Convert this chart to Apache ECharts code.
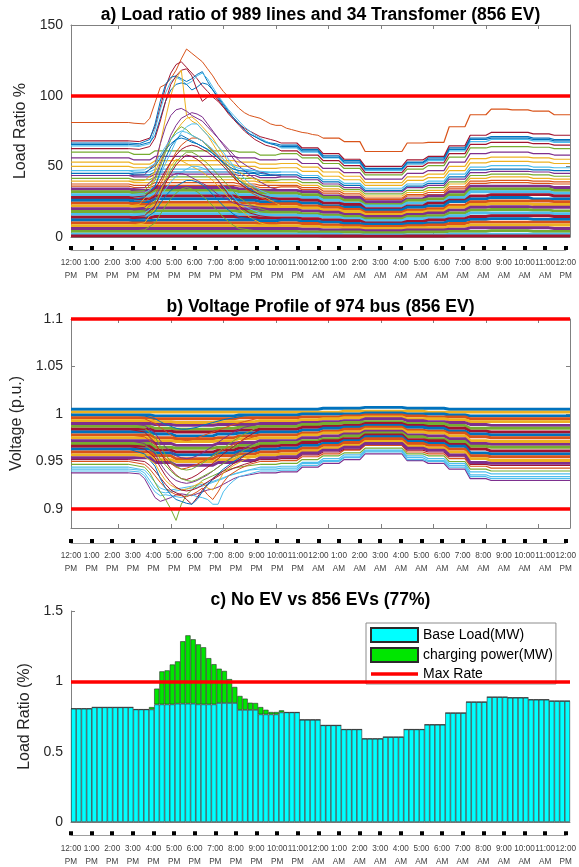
<!DOCTYPE html>
<html lang="en" style="height: 100%">
<head>
  <meta charset="utf-8">
</head>
<body style="height: 100%; margin: 0; background: #fff">
  <div id="container" style="width: 579px; height: 867px;"></div>

  <script type="text/javascript" src="https://fastly.jsdelivr.net/npm/echarts@6.0.0/dist/echarts.min.js"></script>

  <script type="text/javascript">
    // x axis: 96 samples of 15 min, 12:00 PM .. 11:45 AM
    var hourLabels = ['12:00\nPM', '1:00\nPM', '2:00\nPM', '3:00\nPM', '4:00\nPM', '5:00\nPM', '6:00\nPM', '7:00\nPM',
      '8:00\nPM', '9:00\nPM', '10:00\nPM', '11:00\nPM', '12:00\nAM', '1:00\nAM', '2:00\nAM', '3:00\nAM', '4:00\nAM',
      '5:00\nAM', '6:00\nAM', '7:00\nAM', '8:00\nAM', '9:00\nAM', '10:00\nAM', '11:00\nAM', '12:00\nPM'];
    var sampleTicks = [10, 20, 30, 40, 50, 60, 70, 80, 90];
    var panelTitles = ['a) Load ratio of 989 lines and 34 Transfomer (856 EV)',
      'b) Voltage Profile of 974 bus (856 EV)', 'c) No EV vs 856 EVs (77%)'];

    var loadLimit = 100;
    var voltLimits = [1.1, 0.9];
    var voltTicks = [0.9, 0.95, 1, 1.05, 1.1];
    var maxRate = 1;

    // a) hourly load ratio (%) of a selection of lines, 12 PM .. 11 AM; null = see loadPeaks
    var loadLines = [
      [66.5, 66.5, 66.5, null, null, null, null, null, null, null, 65, 62, 57.5, 54, 48.5, 48.5, 53, 56, 63, 70, 71, 71, 70, 69],
      [81, 81, 81, null, null, null, null, null, null, null, null, null, 70, 67.5, 60.5, 60.5, 66.5, 67, 78, 86.5, 90.5, 90, 89, 86.5],
      [53, 53, 53, 51.5, 54, 54, 54, 54, 53, 51.5, 52, 49.5, 46, 43, 38.5, 38.5, 42.5, 44.5, 50, 55.5, 56.5, 56.5, 56, 55],
      [56, 56, 56, 54.5, 57, 57, 57, 57, 56, 54.5, 55, 52, 48.5, 45.5, 41, 41, 45, 47, 53, 59, 60, 60, 59, 58],
      [60, 60, 60, 58.5, 61, 61, 61, 61, 60, 58, 59, 56, 52, 48.5, 44, 44, 48, 50.5, 56.5, 63, 64, 64, 63.5, 62.5],
      [64.5, 64.5, 64.5, null, null, null, null, null, null, null, 63, 60, 56, 52, 47, 47, 51.5, 54, 61, 67.5, 69, 69, 68, 67],
      [68, 68, 68, null, null, null, null, null, null, null, 66.5, 63, 59, 55, 50, 50, 54.5, 57, 64.5, 72, 74, 74, 73, 72],
      [65.5, 65.5, 65.5, null, null, null, null, null, null, null, 64, 61, 56.5, 53, 48, 48, 52.5, 55, 62, 69, 70, 70, 69, 68],
      [36, 36, 36, 35, 36.5, 36.5, 36.5, 36.5, 36, 35, 35.5, 33.5, 31, 29, 26.5, 26.5, 29, 30, 34, 38, 38.5, 38.5, 38, 37.5],
      [50, 50, 50, 49, 51, 51, 51, 51, 50, 48.5, 49, 46.5, 43, 40.5, 36.5, 36.5, 40, 42, 47, 52.5, 53.5, 53.5, 53, 52],
      [43.5, 43.5, 43.5, 42.5, 44.5, 44.5, 44.5, 44.5, 43.5, 42, 42.5, 40.5, 37.5, 35, 32, 32, 35, 36.5, 41, 45.5, 46.5, 46.5, 46, 45],
      [41.5, 41.5, 41.5, 40.5, 42.5, 42.5, 42.5, 42.5, 41.5, 40, 40.5, 38.5, 36, 33.5, 30.5, 30.5, 33, 35, 39, 43.5, 44.5, 44.5, 44, 43],
      [47, 47, 47, 46, 48, 48, 48, 48, 47, 45.5, 46, 43.5, 40.5, 38, 34.5, 34.5, 37.5, 39.5, 44.5, 49.5, 50.5, 50.5, 49.5, 49],
      [62.5, 62.5, 62.5, null, null, null, null, null, null, null, 61, 58, 54, 50.5, 45.5, 45.5, 50, 52.5, 59, 65.5, 67, 67, 66, 65],
      [45, 45, 45, 44, 46, 46, 46, 46, 45, 43.5, 44, 42, 39, 36.5, 33, 33, 36, 38, 42.5, 47.5, 48, 48, 47.5, 47],
      [37.5, 37.5, 37.5, 36.5, 38.5, 38.5, 38.5, 38.5, 37.5, 36.5, 36.5, 35, 32.5, 30.5, 27.5, 27.5, 30, 31.5, 35.5, 39.5, 40, 40, 39.5, 39],
      [39.5, 39.5, 39.5, 38.5, 40.5, 40.5, 40.5, 40.5, 39.5, 38.5, 38.5, 36.5, 34, 32, 29, 29, 31.5, 33, 37.5, 41.5, 42.5, 42.5, 41.5, 41],
      [34, 34, 34, 33, 35, 35, 35, 35, 34, 33, 33, 32, 29, 28, 25, 25, 27, 29, 32, 36, 36, 36, 36, 35],
      [32, 32, 32, 31, 33, 33, 33, 33, 32, 31, 31, 30, 28, 26, 23, 23, 26, 27, 30, 34, 34, 34, 34, 33],
      [30, 30, 30, 29, 31, 31, 31, 31, 30, 29, 29, 28, 26, 24, 22, 22, 24, 25, 28, 32, 32, 32, 32, 31],
      [28, 28, 28, 27, 29, 29, 29, 29, 28, 27, 27, 26, 24, 23, 20, 20, 22, 24, 26, 29, 30, 30, 30, 29],
      [26, 26, 26, 25, 27, 27, 27, 27, 26, 25, 25, 24, 22, 21, 19, 19, 21, 22, 25, 27, 28, 28, 27, 27],
      [24, 24, 24, 23, 24.5, 24.5, 24.5, 24.5, 24, 23, 23.5, 22, 21, 19.5, 17.5, 17.5, 19, 20, 22.5, 25, 25.5, 25.5, 25.5, 25],
      [22, 22, 22, 21.5, 22.5, 22.5, 22.5, 22.5, 22, 21.5, 21.5, 20.5, 19, 18, 16, 16, 17.5, 18.5, 21, 23, 23.5, 23.5, 23, 23],
      [20, 20, 20, 19.5, 20.5, 20.5, 20.5, 20.5, 20, 19.5, 19.5, 18.5, 17.5, 16, 14.5, 14.5, 16, 17, 19, 21, 21.5, 21.5, 21, 21],
      [18, 18, 18, 17.5, 18.5, 18.5, 18.5, 18.5, 18, 17.5, 17.5, 16.5, 15.5, 14.5, 13, 13, 14.5, 15, 17, 19, 19.5, 19.5, 19, 18.5],
      [16, 16, 16, 15.5, 16.5, 16.5, 16.5, 16.5, 16, 15.5, 15.5, 15, 14, 13, 11.5, 11.5, 13, 13.5, 15, 17, 17, 17, 17, 16.5],
      [14, 14, 14, 13.5, 14.5, 14.5, 14.5, 14.5, 14, 13.5, 13.5, 13, 12, 11.5, 10, 10, 11, 12, 13, 14.5, 15, 15, 15, 14.5],
      [12, 12, 12, 11.5, 12, 12, 12, 12, 12, 11.5, 12, 11, 10.5, 9.5, 9, 9, 9.5, 10, 11.5, 12.5, 13, 13, 12.5, 12.5],
      [10, 10, 10, 10, 10, 10, 10, 10, 10, 9.5, 10, 9.5, 8.5, 8, 7.5, 7.5, 8, 8.5, 9.5, 10.5, 10.5, 10.5, 10.5, 10.5],
      [8, 8, 8, 8, 8, 8, 8, 8, 8, 8, 8, 7.5, 7, 6.5, 6, 6, 6.5, 6.5, 7.5, 8.5, 8.5, 8.5, 8.5, 8.5],
      [6, 6, 6, 6, 6, 6, 6, 6, 6, 6, 6, 5.5, 5, 5, 4.5, 4.5, 5, 5, 5.5, 6.5, 6.5, 6.5, 6.5, 6],
      [4, 4, 4, 4, 4, 4, 4, 4, 4, 4, 4, 3.5, 3.5, 3.5, 3, 3, 3.5, 3.5, 4, 4, 4.5, 4.5, 4, 4],
      [2, 2, 2, 2, 2, 2, 2, 2, 2, 2, 2, 2, 2, 1.5, 1.5, 1.5, 1.5, 1.5, 2, 2, 2, 2, 2, 2],
      [0.8, 0.8, 0.8, 0.8, 0.8, 0.8, 0.8, 0.8, 0.8, 0.8, 0.8, 0.8, 0.7, 0.7, 0.6, 0.6, 0.7, 0.7, 0.8, 0.8, 0.8, 0.8, 0.8, 0.8]
    ];

    // a) EV charging peaks: [line index, [[sample, %], ...]]
    var loadPeaks = [
      [1, [[12, 81], [13, 80.5], [15, 80], [16, 84], [17, 95], [18, 106], [19, 108], [20, 112], [21, 118], [22, 126], [23, 133], [24, 130], [25, 127], [26, 124], [27, 119], [28, 114], [29, 108], [30, 103], [31, 99], [32, 95], [33, 91], [34, 88], [35, 86], [36, 85], [37, 84], [38, 82], [39, 80], [40, 79], [41, 79], [42, 77], [43, 76], [44, 75], [45, 74], [46, 73.5], [47, 72.5], [48, 72], [49, 70]]],
      [6, [[12, 68], [14, 67.5], [16, 70], [17, 78], [18, 92], [19, 106], [20, 116], [21, 122], [22, 124], [23, 120], [24, 116], [25, 112], [26, 107], [27, 103], [28, 99], [29, 96], [30, 92], [31, 88], [32, 84], [33, 80], [34, 77], [35, 75], [36, 73], [37, 71], [38, 70], [39, 69], [40, 68], [41, 66.5]]],
      [0, [[12, 66.5], [14, 66], [16, 69], [17, 80], [18, 96], [19, 108], [20, 113], [21, 114], [22, 112], [23, 110], [24, 112], [25, 115], [26, 117], [27, 110], [28, 104], [29, 98], [30, 93], [31, 88], [32, 84], [33, 80], [34, 76], [35, 73], [36, 71], [37, 69], [38, 67.5], [39, 66.5], [40, 66], [41, 65]]],
      [5, [[12, 64.5], [14, 64], [16, 66], [17, 76], [18, 90], [19, 102], [20, 110], [21, 113], [22, 111], [23, 108], [24, 110], [25, 114], [26, 116], [27, 112], [28, 106], [29, 100], [30, 95], [31, 90], [32, 86], [33, 82], [34, 78], [35, 75], [36, 72], [37, 70], [38, 68], [39, 66], [40, 65], [41, 63]]],
      [7, [[12, 65.5], [14, 65], [16, 67], [17, 72], [18, 84], [19, 96], [20, 104], [21, 108], [22, 109], [23, 108], [24, 104], [25, 106], [26, 109], [27, 108], [28, 104], [29, 99], [30, 94], [31, 89], [32, 84], [33, 80], [34, 76], [35, 73], [36, 71], [37, 69], [38, 67], [39, 66], [40, 65], [41, 64]]],
      [13, [[12, 62.5], [14, 62], [16, 64], [17, 70], [18, 82], [19, 96], [20, 108], [21, 114], [22, 118], [23, 119], [24, 114], [25, 104], [26, 96], [27, 99], [28, 101], [29, 97], [30, 92], [31, 87], [32, 83], [33, 79], [34, 75], [35, 72], [36, 69], [37, 67], [38, 65], [39, 64], [40, 63], [41, 61]]],
      [23, [[12, 22], [14, 23], [16, 32], [17, 48], [18, 66], [19, 84], [20, 100], [21, 112], [22, 118], [23, 86], [24, 82], [25, 80], [26, 76], [27, 72], [28, 66], [29, 60], [30, 55], [31, 50], [32, 46], [33, 42], [35, 36], [37, 30], [39, 26], [41, 22]]],
      [10, [[12, 43.5], [15, 44], [17, 52], [18, 66], [19, 78], [20, 86], [21, 90], [22, 91], [23, 89], [24, 86], [25, 84], [26, 82], [27, 78], [28, 74], [29, 70], [30, 66], [31, 62], [32, 58], [33, 54], [35, 49], [37, 46], [39, 44], [41, 43]]],
      [17, [[12, 34], [15, 35], [17, 42], [18, 52], [19, 62], [20, 72], [21, 79], [22, 84], [23, 86], [24, 88], [25, 87], [26, 85], [27, 80], [28, 75], [29, 70], [30, 65], [31, 60], [32, 55], [33, 50], [35, 44], [37, 39], [39, 35], [41, 33]]],
      [16, [[12, 39.5], [15, 40], [17, 46], [18, 54], [19, 62], [20, 69], [21, 75], [22, 80], [23, 84], [24, 85], [25, 82], [26, 78], [27, 74], [28, 70], [29, 64], [30, 58], [31, 53], [32, 49], [33, 46], [35, 42], [37, 40], [39, 39], [41, 38.5]]],
      [18, [[12, 32], [15, 33], [17, 40], [18, 50], [19, 60], [20, 69], [21, 75], [22, 78], [23, 76], [24, 72], [25, 70], [26, 68], [27, 64], [28, 60], [29, 56], [30, 52], [31, 48], [32, 44], [33, 40], [35, 36], [37, 33], [39, 32], [41, 31]]],
      [19, [[12, 30], [15, 31], [17, 36], [18, 44], [19, 52], [20, 60], [21, 68], [22, 74], [23, 78], [24, 80], [25, 80], [26, 76], [27, 72], [28, 68], [29, 64], [30, 60], [31, 55], [32, 50], [33, 45], [35, 38], [37, 33], [39, 30], [41, 29]]],
      [21, [[12, 26], [15, 28], [17, 36], [18, 46], [19, 56], [20, 64], [21, 69], [22, 72], [23, 70], [24, 68], [25, 66], [26, 64], [27, 62], [28, 59], [29, 56], [30, 52], [31, 48], [32, 44], [33, 40], [35, 34], [37, 30], [39, 27], [41, 25.5]]],
      [22, [[12, 24], [15, 25], [17, 30], [18, 37], [19, 45], [20, 53], [21, 60], [22, 65], [23, 68], [24, 70], [25, 70], [26, 68], [27, 65], [28, 61], [29, 57], [30, 53], [31, 48], [32, 43], [33, 38], [35, 32], [37, 28], [39, 25], [41, 23.5]]],
      [20, [[12, 28], [15, 29], [17, 34], [18, 40], [19, 47], [20, 53], [21, 58], [22, 62], [23, 64], [24, 65], [25, 64], [26, 62], [27, 60], [28, 57], [29, 54], [30, 50], [31, 46], [32, 42], [33, 38], [35, 33], [37, 30], [39, 28], [41, 27]]],
      [25, [[12, 18], [15, 19], [17, 25], [18, 32], [19, 40], [20, 47], [21, 53], [22, 57], [23, 60], [24, 60], [25, 58], [26, 55], [27, 52], [28, 48], [29, 44], [30, 40], [31, 36], [32, 32], [33, 28], [35, 23], [37, 20], [39, 18], [41, 17.5]]],
      [30, [[12, 8], [15, 10], [17, 20], [18, 32], [19, 42], [20, 50], [21, 55], [22, 54], [23, 52], [24, 50], [25, 48], [26, 46], [27, 43], [28, 40], [29, 36], [30, 32], [31, 28], [32, 24], [33, 20], [35, 14], [37, 10], [39, 8], [41, 8]]],
      [26, [[12, 16], [15, 17], [17, 22], [18, 28], [19, 34], [20, 39], [21, 43], [22, 46], [23, 48], [24, 50], [25, 50], [26, 49], [27, 47], [28, 44], [29, 40], [30, 36], [31, 32], [32, 28], [33, 24], [35, 20], [37, 17], [39, 16], [41, 15.5]]],
      [24, [[12, 20], [15, 21], [17, 28], [18, 35], [19, 40], [20, 43], [21, 45], [22, 45], [23, 44], [24, 42], [25, 40], [26, 38], [27, 36], [28, 33], [29, 30], [30, 28], [31, 26], [32, 24], [33, 23], [35, 22], [37, 21], [39, 20], [41, 19.5]]],
      [28, [[12, 12], [15, 13], [17, 18], [18, 24], [19, 29], [20, 33], [21, 36], [22, 38], [23, 40], [24, 40], [25, 39], [26, 37], [27, 34], [28, 30], [29, 26], [30, 22], [31, 19], [32, 16], [33, 14], [35, 13], [37, 12], [39, 12], [41, 12]]],
      [27, [[12, 14], [15, 15], [17, 22], [18, 30], [19, 38], [20, 45], [21, 51], [22, 55], [23, 58], [24, 57], [25, 55], [26, 52], [27, 48], [28, 44], [29, 40], [30, 35], [31, 30], [32, 26], [33, 22], [35, 17], [37, 15], [39, 14], [41, 13.5]]],
      [32, [[12, 4], [15, 5], [17, 10], [18, 16], [19, 22], [20, 27], [21, 31], [22, 34], [23, 35], [24, 34], [25, 32], [26, 29], [27, 26], [28, 22], [29, 18], [30, 14], [31, 11], [32, 8], [33, 6], [35, 5], [37, 4], [39, 4], [41, 4]]],
      [12, [[12, 47], [15, 47.5], [17, 52], [18, 58], [19, 64], [20, 69], [21, 73], [22, 75], [23, 74], [24, 72], [25, 70], [26, 68], [27, 65], [28, 62], [29, 58], [30, 55], [31, 52], [32, 50], [33, 48.5], [35, 47.5], [37, 46.5], [39, 46], [41, 46]]],
      [14, [[12, 45], [15, 45.5], [17, 50], [18, 56], [19, 62], [20, 66], [21, 69], [22, 70], [23, 69], [24, 67], [25, 66], [26, 64], [27, 62], [28, 59], [29, 56], [30, 53], [31, 50], [32, 48], [33, 47], [35, 46], [37, 45], [39, 44], [41, 44]]]
    ];

    // b) hourly bus voltage (p.u.), 12 PM .. 11 AM; null = see voltDips
    var voltLines = [
      [1.005, 1.005, 1.005, 1.005, 1.005, 1.005, 1.005, 1.005, 1.005, 1.005, 1.005, 1.005, 1.006, 1.006, 1.007, 1.007, 1.006, 1.006, 1.005, 1.005, 1.005, 1.005, 1.005, 1.005],
      [0.950, 0.950, 0.950, null, null, null, null, null, null, 0.950, 0.951, 0.955, 0.958, 0.962, 0.967, 0.967, 0.960, 0.958, 0.953, 0.945, 0.943, 0.943, 0.943, 0.943],
      [1.002, 1.002, 1.002, 1.002, 1.002, 1.002, 1.002, 1.002, 1.002, 1.002, 1.002, 1.002, 1.002, 1.003, 1.003, 1.003, 1.003, 1.002, 1.002, 1.002, 1.002, 1.002, 1.002, 1.002],
      [0.938, 0.938, 0.938, null, null, null, null, null, null, 0.938, 0.939, 0.944, 0.948, 0.952, 0.958, 0.958, 0.951, 0.948, 0.942, 0.932, 0.930, 0.930, 0.930, 0.930],
      [0.947, 0.947, 0.947, null, null, null, null, null, null, 0.947, 0.948, 0.952, 0.956, 0.959, 0.964, 0.964, 0.958, 0.956, 0.950, 0.942, 0.940, 0.940, 0.940, 0.940],
      [0.944, 0.944, 0.944, null, null, null, null, null, null, 0.944, 0.945, 0.949, 0.953, 0.957, 0.962, 0.962, 0.956, 0.953, 0.948, 0.939, 0.937, 0.937, 0.937, 0.937],
      [0.952, 0.952, 0.952, null, null, null, null, null, null, 0.952, 0.953, 0.957, 0.960, 0.963, 0.968, 0.968, 0.962, 0.960, 0.955, 0.947, 0.946, 0.946, 0.946, 0.946],
      [0.999, 0.999, 0.999, 0.999, 0.998, 0.998, 0.998, 0.998, 0.999, 0.999, 0.999, 1.000, 1.000, 1.000, 1.001, 1.001, 1.000, 1.000, 0.999, 0.998, 0.998, 0.998, 0.998, 0.998],
      [0.996, 0.996, 0.996, 0.996, 0.995, 0.995, 0.995, 0.995, 0.996, 0.996, 0.996, 0.997, 0.997, 0.998, 0.999, 0.999, 0.998, 0.997, 0.997, 0.995, 0.995, 0.995, 0.995, 0.995],
      [0.993, 0.993, 0.993, 0.993, 0.992, 0.991, 0.991, 0.992, 0.992, 0.993, 0.993, 0.994, 0.995, 0.996, 0.997, 0.997, 0.995, 0.995, 0.994, 0.992, 0.992, 0.992, 0.992, 0.992],
      [0.990, 0.990, 0.990, 0.990, 0.989, 0.988, 0.988, 0.989, 0.989, 0.990, 0.990, 0.991, 0.992, 0.993, 0.995, 0.995, 0.993, 0.992, 0.991, 0.989, 0.988, 0.988, 0.988, 0.988],
      [0.987, 0.987, 0.987, 0.987, 0.985, 0.984, 0.984, 0.985, 0.986, 0.987, 0.987, 0.989, 0.990, 0.991, 0.992, 0.992, 0.990, 0.990, 0.988, 0.985, 0.985, 0.985, 0.985, 0.985],
      [0.940, 0.940, 0.940, null, null, null, null, null, null, 0.940, 0.941, 0.946, 0.950, 0.954, 0.960, 0.960, 0.952, 0.950, 0.944, 0.934, 0.932, 0.932, 0.932, 0.932],
      [0.984, 0.984, 0.984, 0.984, 0.982, 0.981, 0.981, 0.982, 0.983, 0.984, 0.984, 0.986, 0.987, 0.988, 0.990, 0.990, 0.988, 0.987, 0.985, 0.982, 0.981, 0.981, 0.981, 0.981],
      [0.981, 0.981, 0.981, 0.981, 0.979, 0.977, 0.977, 0.979, 0.980, 0.981, 0.981, 0.983, 0.985, 0.986, 0.988, 0.988, 0.986, 0.985, 0.982, 0.979, 0.978, 0.978, 0.978, 0.978],
      [0.978, 0.978, 0.978, 0.978, 0.975, 0.974, 0.974, 0.975, 0.977, 0.978, 0.978, 0.980, 0.982, 0.984, 0.986, 0.986, 0.983, 0.982, 0.980, 0.976, 0.975, 0.975, 0.975, 0.975],
      [0.975, 0.975, 0.975, 0.975, 0.972, 0.971, 0.971, 0.972, 0.974, 0.975, 0.975, 0.978, 0.980, 0.981, 0.984, 0.984, 0.981, 0.980, 0.977, 0.972, 0.971, 0.971, 0.971, 0.971],
      [0.972, 0.972, 0.972, 0.972, 0.969, 0.967, 0.967, 0.969, 0.970, 0.972, 0.972, 0.975, 0.977, 0.979, 0.982, 0.982, 0.978, 0.977, 0.974, 0.969, 0.968, 0.968, 0.968, 0.968],
      [0.969, 0.969, 0.969, 0.969, 0.965, 0.964, 0.964, 0.965, 0.967, 0.969, 0.970, 0.972, 0.974, 0.977, 0.980, 0.980, 0.976, 0.974, 0.971, 0.966, 0.965, 0.965, 0.965, 0.965],
      [0.942, 0.942, 0.942, null, null, null, null, null, null, 0.942, 0.943, 0.948, 0.951, 0.955, 0.961, 0.961, 0.954, 0.951, 0.946, 0.936, 0.934, 0.934, 0.934, 0.934],
      [0.966, 0.966, 0.966, 0.966, 0.962, 0.960, 0.960, 0.962, 0.964, 0.966, 0.967, 0.970, 0.972, 0.974, 0.978, 0.978, 0.973, 0.972, 0.968, 0.963, 0.961, 0.961, 0.961, 0.961],
      [0.963, 0.963, 0.963, 0.963, 0.959, 0.957, 0.957, 0.959, 0.961, 0.963, 0.964, 0.967, 0.969, 0.972, 0.976, 0.976, 0.971, 0.969, 0.966, 0.959, 0.958, 0.958, 0.958, 0.958],
      [0.960, 0.960, 0.960, 0.960, 0.956, 0.953, 0.953, 0.956, 0.958, 0.960, 0.961, 0.964, 0.967, 0.970, 0.974, 0.974, 0.969, 0.967, 0.963, 0.956, 0.955, 0.955, 0.955, 0.955],
      [0.957, 0.957, 0.957, 0.957, 0.952, 0.950, 0.950, 0.952, 0.955, 0.957, 0.958, 0.961, 0.964, 0.967, 0.971, 0.971, 0.966, 0.964, 0.960, 0.953, 0.951, 0.951, 0.951, 0.951],
      [0.954, 0.954, 0.954, 0.954, 0.949, 0.946, 0.946, 0.949, 0.951, 0.954, 0.955, 0.959, 0.962, 0.965, 0.969, 0.969, 0.964, 0.962, 0.957, 0.949, 0.948, 0.948, 0.948, 0.948]
    ];

    // b) EV charging voltage dips: [line index, [[sample, p.u.], ...]]
    var voltDips = [
      [3, [[12, 0.938], [14, 0.937], [15, 0.932], [16, 0.922], [17, 0.912], [18, 0.908], [19, 0.910], [20, 0.912], [21, 0.915], [22, 0.916], [23, 0.915], [24, 0.914], [25, 0.916], [26, 0.918], [27, 0.920], [28, 0.921], [29, 0.923], [30, 0.926], [31, 0.929], [32, 0.932], [33, 0.934], [35, 0.936], [37, 0.938]]],
      [12, [[12, 0.940], [14, 0.939], [15, 0.935], [16, 0.926], [17, 0.918], [18, 0.914], [19, 0.915], [20, 0.914], [21, 0.913], [22, 0.912], [23, 0.914], [24, 0.915], [25, 0.913], [26, 0.912], [27, 0.910], [28, 0.905], [29, 0.905], [30, 0.918], [31, 0.925], [32, 0.930], [33, 0.934], [35, 0.937], [37, 0.940]]],
      [19, [[12, 0.942], [14, 0.941], [15, 0.938], [16, 0.930], [17, 0.922], [18, 0.918], [19, 0.917], [20, 0.918], [21, 0.919], [22, 0.920], [23, 0.921], [24, 0.922], [25, 0.923], [26, 0.924], [27, 0.926], [28, 0.928], [29, 0.930], [30, 0.932], [31, 0.935], [33, 0.938], [35, 0.941], [37, 0.942]]],
      [5, [[12, 0.944], [15, 0.941], [16, 0.935], [17, 0.928], [18, 0.922], [19, 0.920], [20, 0.920], [21, 0.921], [22, 0.922], [24, 0.924], [26, 0.926], [28, 0.929], [30, 0.933], [32, 0.937], [34, 0.940], [37, 0.944]]],
      [4, [[12, 0.947], [15, 0.944], [16, 0.938], [17, 0.928], [18, 0.918], [19, 0.910], [20, 0.900], [21, 0.888], [22, 0.905], [23, 0.915], [24, 0.920], [25, 0.925], [26, 0.930], [28, 0.935], [30, 0.940], [32, 0.943], [34, 0.945], [37, 0.947]]],
      [1, [[12, 0.950], [15, 0.947], [16, 0.942], [17, 0.935], [18, 0.928], [19, 0.922], [20, 0.918], [21, 0.915], [22, 0.914], [23, 0.913], [24, 0.915], [25, 0.918], [26, 0.922], [27, 0.915], [28, 0.910], [29, 0.918], [30, 0.928], [31, 0.935], [33, 0.942], [35, 0.947], [37, 0.950]]],
      [6, [[12, 0.952], [15, 0.950], [16, 0.946], [17, 0.940], [18, 0.933], [19, 0.926], [20, 0.920], [21, 0.917], [22, 0.915], [23, 0.910], [24, 0.905], [25, 0.912], [26, 0.920], [27, 0.926], [28, 0.931], [30, 0.938], [32, 0.943], [34, 0.947], [37, 0.952]]],
      [21, [[12, 0.963], [15, 0.958], [17, 0.945], [18, 0.932], [19, 0.922], [20, 0.915], [21, 0.910], [22, 0.908], [23, 0.906], [24, 0.905], [25, 0.910], [26, 0.918], [27, 0.925], [28, 0.932], [30, 0.942], [32, 0.950], [34, 0.957], [37, 0.963]]],
      [23, [[12, 0.957], [15, 0.955], [17, 0.948], [18, 0.938], [19, 0.930], [20, 0.925], [21, 0.922], [22, 0.920], [23, 0.921], [24, 0.923], [25, 0.926], [26, 0.928], [27, 0.922], [28, 0.920], [29, 0.928], [30, 0.938], [32, 0.946], [34, 0.952], [37, 0.957]]],
      [17, [[12, 0.972], [15, 0.969], [17, 0.958], [18, 0.948], [19, 0.940], [20, 0.934], [21, 0.930], [22, 0.928], [23, 0.927], [24, 0.928], [25, 0.930], [26, 0.933], [27, 0.936], [28, 0.940], [30, 0.948], [32, 0.956], [34, 0.964], [37, 0.972]]],
      [13, [[12, 0.984], [15, 0.981], [17, 0.970], [18, 0.960], [19, 0.950], [20, 0.942], [21, 0.936], [22, 0.932], [23, 0.931], [24, 0.933], [25, 0.936], [26, 0.940], [28, 0.948], [30, 0.958], [32, 0.966], [34, 0.974], [37, 0.984]]],
      [15, [[12, 0.978], [15, 0.976], [17, 0.968], [18, 0.960], [19, 0.953], [20, 0.948], [21, 0.944], [22, 0.942], [23, 0.943], [24, 0.945], [25, 0.947], [26, 0.950], [28, 0.956], [30, 0.962], [32, 0.968], [34, 0.973], [37, 0.978]]],
      [18, [[12, 0.969], [15, 0.967], [17, 0.960], [18, 0.953], [19, 0.946], [20, 0.940], [21, 0.935], [22, 0.932], [23, 0.930], [24, 0.929], [25, 0.931], [26, 0.934], [28, 0.940], [30, 0.948], [32, 0.955], [34, 0.962], [37, 0.969]]],
      [8, [[12, 0.996], [15, 0.995], [17, 0.990], [18, 0.986], [19, 0.982], [20, 0.978], [21, 0.975], [22, 0.973], [23, 0.972], [24, 0.973], [25, 0.975], [26, 0.977], [28, 0.981], [30, 0.985], [32, 0.989], [34, 0.992], [37, 0.996]]],
      [7, [[12, 0.999], [15, 0.998], [17, 0.995], [18, 0.992], [19, 0.989], [20, 0.987], [21, 0.985], [22, 0.984], [23, 0.984], [24, 0.985], [25, 0.986], [26, 0.988], [28, 0.991], [30, 0.994], [32, 0.996], [34, 0.998], [37, 0.999]]],
      [10, [[12, 0.990], [15, 0.988], [17, 0.980], [18, 0.972], [19, 0.965], [20, 0.960], [21, 0.956], [22, 0.954], [23, 0.953], [24, 0.954], [25, 0.956], [26, 0.959], [28, 0.966], [30, 0.974], [32, 0.981], [34, 0.986], [37, 0.990]]],
      [11, [[12, 0.987], [15, 0.985], [17, 0.976], [18, 0.966], [19, 0.957], [20, 0.950], [21, 0.945], [22, 0.942], [23, 0.941], [24, 0.942], [25, 0.945], [26, 0.948], [28, 0.956], [30, 0.964], [32, 0.972], [34, 0.979], [37, 0.987]]],
      [20, [[12, 0.966], [15, 0.963], [17, 0.954], [18, 0.944], [19, 0.935], [20, 0.928], [21, 0.923], [22, 0.920], [23, 0.919], [24, 0.920], [25, 0.922], [26, 0.925], [28, 0.932], [30, 0.940], [32, 0.948], [34, 0.956], [37, 0.966]]]
    ];

    // c) network load ratio per 15-min sample
    var baseLoad = [
      0.806, 0.806, 0.806, 0.806,  0.815, 0.815, 0.815, 0.815,  0.815, 0.815, 0.815, 0.815,  0.800, 0.800, 0.800, 0.800,
      0.836, 0.836, 0.836, 0.836,  0.841, 0.841, 0.841, 0.841,  0.836, 0.836, 0.836, 0.836,  0.846, 0.846, 0.846, 0.846,
      0.797, 0.797, 0.797, 0.797,  0.765, 0.765, 0.765, 0.765,  0.779, 0.779, 0.779, 0.779,  0.727, 0.727, 0.727, 0.727,
      0.687, 0.687, 0.687, 0.687,  0.658, 0.658, 0.658, 0.658,  0.592, 0.592, 0.592, 0.592,  0.604, 0.604, 0.604, 0.604,
      0.658, 0.658, 0.658, 0.658,  0.692, 0.692, 0.692, 0.692,  0.775, 0.775, 0.775, 0.775,  0.853, 0.853, 0.853, 0.853,
      0.888, 0.888, 0.888, 0.888,  0.884, 0.884, 0.884, 0.884,  0.870, 0.870, 0.870, 0.870,  0.860, 0.860, 0.860, 0.860
    ];
    var evCharging = [
      0, 0, 0, 0,  0, 0, 0, 0,  0, 0, 0, 0,  0, 0, 0, 0.017,
      0.112, 0.235, 0.242, 0.284,  0.301, 0.444, 0.486, 0.458,  0.427, 0.406, 0.329, 0.286,  0.244, 0.228, 0.170, 0.114,
      0.099, 0.080, 0.051, 0.049,  0.052, 0.033, 0.017, 0.017,  0.015, 0, 0, 0,  0, 0, 0, 0,
      0, 0, 0, 0,  0, 0, 0, 0,  0, 0, 0, 0,  0, 0, 0, 0,
      0, 0, 0, 0,  0, 0, 0, 0,  0, 0, 0, 0,  0, 0, 0, 0,
      0, 0, 0, 0,  0, 0, 0, 0,  0, 0, 0, 0,  0, 0, 0, 0
    ];

    var palette = ['#0072BD', '#D95319', '#EDB120', '#7E2F8E', '#77AC30', '#4DBEEE', '#A2142F'];
    var font = 'Liberation Sans, Arial, sans-serif';
    var boxGray = '#808080';
    var textGray = '#262626';

    var dom = document.getElementById('container');
    var myChart = echarts.init(dom, null, {renderer: 'canvas'});

    // each hourly value is held over its four 15-min samples
    function hourly(values) {
      var pts = [];
      values.forEach(function (v, h) {
        var y = v === null ? '-' : v;
        pts.push([h * 4 + 1, y], [h * 4 + 4, y]);
      });
      return pts;
    }

    var grids = [], xAxes = [], yAxes = [], series = [];

    function boxPanel(top, height, yCfg, name, nameGap) {
      var g = grids.length;
      grids.push({left: 71, width: 499, top: top, height: height});
      ['bottom', 'top'].forEach(function (pos) {
        xAxes.push({
          gridIndex: g, type: 'value', position: pos, min: 1, max: 96, interval: 10,
          axisLine: {show: true, onZero: false, lineStyle: {color: boxGray, width: 1}},
          axisTick: {show: true, inside: true, length: 4, customValues: sampleTicks, lineStyle: {color: boxGray}},
          axisLabel: {show: false}, splitLine: {show: false}
        });
      });
      ['left', 'right'].forEach(function (pos) {
        var ax = Object.assign({
          gridIndex: g, type: 'value', position: pos,
          axisLine: {show: true, onZero: false, lineStyle: {color: boxGray, width: 1}},
          axisTick: {show: true, inside: true, length: 4, lineStyle: {color: boxGray}},
          axisLabel: {show: pos === 'left', fontSize: 14, color: textGray, fontFamily: font, margin: 8},
          splitLine: {show: false}
        }, yCfg);
        if (yCfg.ticks) {
          ax.axisTick.customValues = yCfg.ticks;
          ax.axisLabel.customValues = yCfg.ticks;
        }
        if (pos === 'left') {
          ax.name = name;
          ax.nameLocation = 'middle';
          ax.nameGap = nameGap;
          ax.nameTextStyle = {fontSize: 16, color: textGray, fontFamily: font};
        }
        yAxes.push(ax);
      });
      return g;
    }

    function labelStrip(lineY) {
      var g = grids.length;
      grids.push({left: 71, width: 500, top: lineY - 1, height: 1});
      xAxes.push({
        gridIndex: g, type: 'category', data: hourLabels, boundaryGap: false,
        axisLine: {show: true, lineStyle: {color: '#a0a0a0', width: 1}},
        axisTick: {show: true, inside: true, length: 4, interval: 0, lineStyle: {color: '#000', width: 4}},
        axisLabel: {interval: 0, fontSize: 8.2, lineHeight: 13, margin: 6.5, color: '#404040', fontFamily: font}
      });
      yAxes.push({gridIndex: g, type: 'value', show: false});
    }

    function limitLine(xi, yi, values, name) {
      series.push({
        name: name, type: 'line', xAxisIndex: xi, yAxisIndex: yi, data: [], symbol: 'none', silent: true,
        color: '#ff0000', lineStyle: {color: '#ff0000', width: 3.5}, z: 20,
        markLine: {
          symbol: 'none', silent: true, animation: false, label: {show: false},
          lineStyle: {color: '#ff0000', width: 3.5, type: 'solid'},
          data: values.map(function (v) { return {yAxis: v}; })
        }
      });
    }

    // a) load ratio
    boxPanel(25, 212, {min: 0, max: 150, interval: 50}, 'Load Ratio %', 40);
    labelStrip(250);
    loadLines.forEach(function (vals, i) {
      series.push({
        type: 'line', xAxisIndex: 0, yAxisIndex: 0, data: hourly(vals), symbol: 'none', silent: true,
        color: palette[i % 7], lineStyle: {width: vals[0] <= 34 ? 2.9 : 1.2}
      });
    });
    loadPeaks.forEach(function (p) {
      series.push({
        type: 'line', xAxisIndex: 0, yAxisIndex: 0, data: p[1], symbol: 'none', silent: true,
        color: palette[p[0] % 7], lineStyle: {width: 1}
      });
    });
    limitLine(0, 0, [loadLimit]);

    // b) voltage profile
    boxPanel(319, 209, {min: 0.88, max: 1.1, ticks: voltTicks}, 'Voltage (p.u.)', 44);
    labelStrip(543);
    voltLines.forEach(function (vals, i) {
      series.push({
        type: 'line', xAxisIndex: 3, yAxisIndex: 3, data: hourly(vals), symbol: 'none', silent: true,
        color: palette[i % 7], lineStyle: {width: vals[0] > 0.953 ? 2.9 : 1.2}
      });
    });
    voltDips.forEach(function (p) {
      series.push({
        type: 'line', xAxisIndex: 3, yAxisIndex: 3, data: p[1], symbol: 'none', silent: true,
        color: palette[p[0] % 7], lineStyle: {width: 1}
      });
    });
    limitLine(3, 3, voltLimits);

    // c) No EV vs EV bars
    var gc = grids.length;
    grids.push({left: 71, width: 499, top: 611, height: 211});
    xAxes.push({
      gridIndex: gc, type: 'category', data: baseLoad.map(function (_, i) { return i + 1; }),
      axisLine: {show: true, lineStyle: {color: boxGray}}, axisTick: {show: false}, axisLabel: {show: false}
    });
    yAxes.push({
      gridIndex: gc, type: 'value', min: 0, max: 1.5, interval: 0.5,
      axisLine: {show: true, lineStyle: {color: boxGray}},
      axisTick: {show: true, inside: true, length: 4, lineStyle: {color: boxGray}},
      axisLabel: {fontSize: 14, color: textGray, fontFamily: font, margin: 8},
      splitLine: {show: false},
      name: 'Load Ratio (%)', nameLocation: 'middle', nameGap: 35,
      nameTextStyle: {fontSize: 16, color: textGray, fontFamily: font}
    });
    labelStrip(836);
    series.push({
      name: 'Base Load(MW)', type: 'bar', xAxisIndex: 6, yAxisIndex: 6, stack: 'load', data: baseLoad,
      barCategoryGap: '0%', silent: true,
      itemStyle: {color: '#00ffff', borderColor: '#2b2b2b', borderWidth: 0.6}
    });
    series.push({
      name: 'charging power(MW)', type: 'bar', xAxisIndex: 6, yAxisIndex: 6, stack: 'load', data: evCharging,
      barCategoryGap: '0%', silent: true,
      itemStyle: {color: '#00e600', borderColor: '#2b2b2b', borderWidth: 0.6}
    });
    limitLine(6, 6, [maxRate], 'Max Rate');

    var option = {
      animation: false,
      backgroundColor: '#fff',
      title: panelTitles.map(function (t, i) {
        return {
          text: t, left: 320.5, top: [6, 298, 591.5][i], textAlign: 'center', padding: 0,
          textStyle: {fontSize: 17.5, fontWeight: 'bold', color: '#000', fontFamily: font}
        };
      }),
      legend: {
        orient: 'vertical', left: 366, top: 623, padding: [4, 3, 3, 4], itemGap: 4,
        itemWidth: 47, itemHeight: 14, backgroundColor: '#fff', borderColor: '#8c8c8c', borderWidth: 1,
        textStyle: {fontSize: 14, color: '#000', fontFamily: font},
        data: [
          {name: 'Base Load(MW)', icon: 'rect'},
          {name: 'charging power(MW)', icon: 'rect'},
          {name: 'Max Rate', icon: 'path://M0,0H100V7H0Z', itemStyle: {color: '#ff0000', borderWidth: 0}, lineStyle: {width: 0}}
        ]
      },
      grid: grids,
      xAxis: xAxes,
      yAxis: yAxes,
      series: series
    };

    myChart.setOption(option);
    window.addEventListener('resize', myChart.resize);
  </script>
</body>
</html>
